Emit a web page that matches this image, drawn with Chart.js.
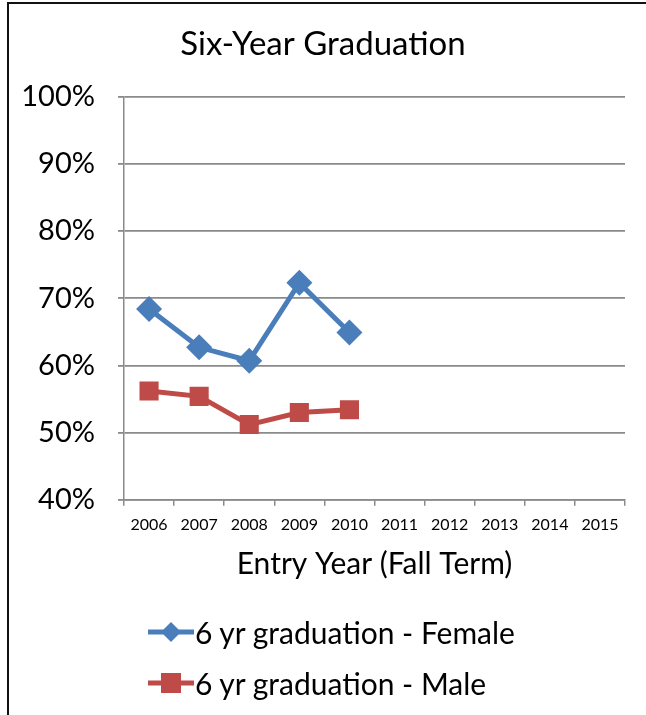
<!DOCTYPE html>
<html>
<head>
<meta charset="utf-8">
<script src="https://cdn.jsdelivr.net/npm/chart.js@4/dist/chart.umd.min.js"></script>
<style>
  html, body { margin: 0; padding: 0; background: #fff; }
  body { width: 646px; height: 715px; position: relative; overflow: hidden; font-family: Lato, "Noto Sans", sans-serif; }
  #frame { position: absolute; left: 7px; top: 2px; width: 700px; height: 800px; border-left: 2px solid #111; border-top: 2px solid #111; }
  #wrap { position: absolute; left: 0; top: 0; width: 646px; height: 715px; }
  #legend { position: absolute; left: 148px; top: 606px; }
  .item { display: flex; align-items: center; height: 51px; font-size: 30px; color: #000; }
  .item svg { margin-right: 1px; }
</style>
</head>
<body>
<div id="frame"></div>
<div id="wrap"><canvas id="c"></canvas></div>
<div id="legend"></div>
<script>
// 数据
const years = ['2006', '2007', '2008', '2009', '2010', '2011', '2012', '2013', '2014', '2015'];
const female = [68.4, 62.7, 60.7, 72.3, 64.9, null, null, null, null, null];
const male = [56.2, 55.4, 51.2, 53.0, 53.4, null, null, null, null, null];
const seriesNames = ['6 yr graduation - Female', '6 yr graduation - Male'];
const seriesColors = ['#4a7ebb', '#be4b48'];
const seriesPoints = ['rectRot', 'rect'];

const gridColor = '#8a8a8a';

new Chart(document.getElementById('c'), {
    type: 'line',
    data: {
        labels: years,
        datasets: [{
            label: seriesNames[0],
            data: female,
            borderColor: seriesColors[0],
            backgroundColor: seriesColors[0],
            borderWidth: 5,
            pointStyle: seriesPoints[0],
            pointRadius: 13,
            pointBorderWidth: 0,
            tension: 0
        }, {
            label: seriesNames[1],
            data: male,
            borderColor: seriesColors[1],
            backgroundColor: seriesColors[1],
            borderWidth: 5,
            pointStyle: seriesPoints[1],
            pointRadius: 13.5,
            pointBorderWidth: 0,
            tension: 0
        }]
    },
    options: {
        responsive: true,
        maintainAspectRatio: false,
        animation: false,
        layout: { padding: { left: 21, right: 21, top: 10, bottom: 133 } },
        plugins: {
            legend: { display: false },
            tooltip: { enabled: false },
            title: {
                display: true,
                text: 'Six-Year Graduation',
                color: '#000',
                font: { family: 'Lato', size: 33, weight: 'normal' },
                padding: { top: 14.6, bottom: 32.6 }
            }
        },
        scales: {
            x: {
                offset: true,
                grid: {
                    offset: true,
                    drawOnChartArea: false,
                    drawTicks: true,
                    tickLength: 6,
                    color: gridColor,
                    lineWidth: 1.5
                },
                border: { color: gridColor, width: 1.5 },
                ticks: {
                    color: '#000',
                    padding: 9,
                    maxRotation: 0,
                    autoSkip: false,
                    font: { family: 'Lato', size: 16 }
                },
                title: {
                    display: true,
                    text: 'Entry Year (Fall Term)',
                    color: '#000',
                    font: { family: 'Lato', size: 30 },
                    padding: { top: 3, bottom: 0 }
                }
            },
            y: {
                min: 40,
                max: 100,
                afterFit: function(scale) { scale.width = 103; },
                grid: {
                    color: gridColor,
                    lineWidth: 1.8,
                    borderDash: [3, 1.5],
                    tickLength: 6,
                    tickBorderDash: [],
                    tickColor: gridColor
                },
                border: { color: gridColor, width: 1.5 },
                ticks: {
                    stepSize: 10,
                    color: '#000',
                    padding: 23,
                    font: { family: 'Lato', size: 29 },
                    callback: v => v + '%'
                }
            }
        }
    }
});

// 图例
const legend = document.getElementById('legend');
seriesNames.forEach((name, i) => {
    const marker = i === 0
        ? '<polygon points="23,2 33,12 23,22 13,12" fill="' + seriesColors[i] + '"/>'
        : '<rect x="13" y="2" width="20" height="20" fill="' + seriesColors[i] + '"/>';
    const row = document.createElement('div');
    row.className = 'item';
    row.innerHTML = '<svg width="46" height="24"><line x1="0" y1="12" x2="46" y2="12" stroke="' +
        seriesColors[i] + '" stroke-width="5"/>' + marker + '</svg><span>' + name + '</span>';
    legend.appendChild(row);
});
</script>
</body>
</html>
